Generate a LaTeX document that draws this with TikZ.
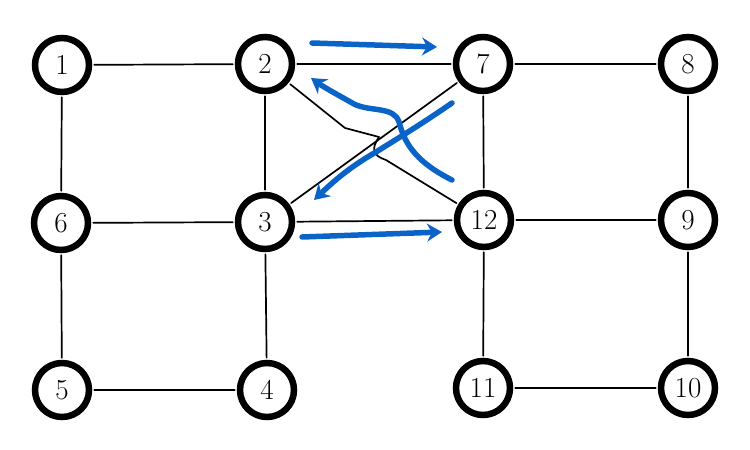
\documentclass[tikz,border=0pt]{standalone}
\usepackage{fontspec}
\usetikzlibrary{arrows.meta}
\definecolor{penblue}{RGB}{10,100,200}
\begin{document}
\begin{tikzpicture}[x=1pt,y=-1pt,
  vert/.style={circle,draw=black,line width=6.5pt,minimum size=54pt,inner sep=0pt,fill=white,font=\fontsize{29}{30}\selectfont},
  edge/.style={draw=black,line width=1.7pt,shorten <=2pt,shorten >=2pt,line cap=round,line join=round},
  bluearrow/.style={draw=penblue,line width=5.5pt,line cap=round,line join=round,-{Stealth[length=15pt,width=18pt,inset=5pt]}}]
\useasboundingbox (0,0) rectangle (750,450);
\node[vert] (n1) at (62,65) {1};
\node[vert] (n2) at (265,64) {2};
\node[vert] (n7) at (483,64) {7};
\node[vert] (n8) at (688,64) {8};
\node[vert] (n6) at (61,223) {6};
\node[vert] (n3) at (265,222) {3};
\node[vert] (n12) at (484,220) {12};
\node[vert] (n9) at (688,220) {9};
\node[vert] (n5) at (62,390) {5};
\node[vert] (n4) at (267,390) {4};
\node[vert] (n11) at (483,388) {11};
\node[vert] (n10) at (688,388) {10};
% grid edges
\draw[edge] (n1) -- (n2);
\draw[edge] (n2) -- (n7);
\draw[edge] (n7) -- (n8);
\draw[edge] (n1) -- (n6);
\draw[edge] (n2) -- (n3);
\draw[edge] (n7) -- (n12);
\draw[edge] (n8) -- (n9);
\draw[edge] (n6) -- (n3);
\draw[edge] (n3) -- (n12);
\draw[edge] (n12) -- (n9);
\draw[edge] (n6) -- (n5);
\draw[edge] (n3) -- (n4);
\draw[edge] (n12) -- (n11);
\draw[edge] (n9) -- (n10);
\draw[edge] (n5) -- (n4);
\draw[edge] (n11) -- (n10);
% diagonals
\coordinate (h1) at (345,128);
\coordinate (h2) at (379,137);
\coordinate (h3) at (386,160);
\draw[edge] (n3) -- (n7);
\draw[edge] (n2) -- (h1) -- (h2) .. controls (370,150) and (374,156) .. (h3) -- (n12);
% blue arrows
\coordinate (a1s) at (312,43);
\coordinate (a1e) at (437,47);
\coordinate (a2s) at (302,237);
\coordinate (a2e) at (442,232);
\draw[bluearrow] (a1s) -- (a1e);
\draw[bluearrow] (a2s) -- (a2e);
\coordinate (b1s) at (452,180);
\coordinate (b1e) at (311,78);
\draw[bluearrow] (b1s) .. controls (412,160) and (404,140) .. (399,122)
  .. controls (394,106) and (370,112) .. (354,104)
  .. controls (340,96) and (325,88) .. (b1e);
\coordinate (b2s) at (452,103);
\coordinate (b2e) at (314,200);
\draw[bluearrow] (b2s) .. controls (420,125) and (400,137) .. (376,152)
  .. controls (350,167) and (335,180) .. (b2e);
\end{tikzpicture}
\end{document}
